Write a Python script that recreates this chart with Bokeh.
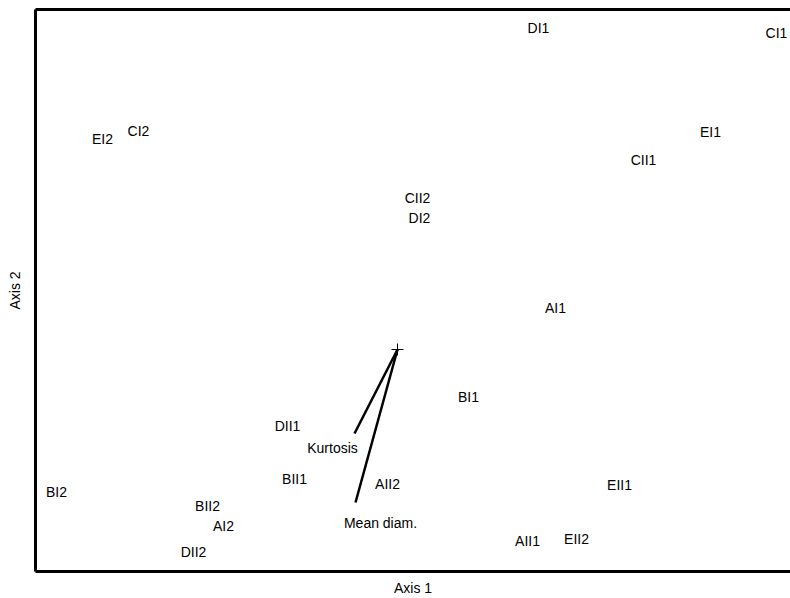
from bokeh.plotting import figure
from bokeh.models import ColumnDataSource, LinearAxis, FixedTicker, Range1d
from bokeh.core.properties import value
from bokeh.embed import file_html
from bokeh.resources import INLINE

# Sample scores (Axis 1, Axis 2)
site_labels = ["DI1", "CI1", "EI2", "CI2", "EI1", "CII1", "CII2", "DI2", "AI1", "BI1",
               "DII1", "BII1", "AII2", "EII1", "BI2", "BII2", "AI2", "AII1", "EII2", "DII2"]
site_x = [1.41, 3.79, -2.95, -2.59, 3.13, 2.46, 0.20, 0.22, 1.58, 0.71,
          -1.10, -1.03, -0.10, 2.22, -3.41, -1.90, -1.74, 1.30, 1.79, -2.04]
site_y = [3.22, 3.17, 2.11, 2.19, 2.18, 1.90, 1.52, 1.32, 0.42, -0.47,
          -0.76, -1.29, -1.34, -1.35, -1.42, -1.56, -1.76, -1.91, -1.89, -2.02]

# Variable vectors
var_labels = ["Kurtosis", "Mean diam."]
var_x = [-0.43, -0.42]
var_y = [-0.84, -1.53]
var_label_x = [-0.65, -0.17]
var_label_y = [-0.985, -1.73]

FONT = "Liberation Sans"

p = figure(width=790, height=598, output_backend="svg", toolbar_location=None,
           x_range=Range1d(-3.62, 3.93), y_range=Range1d(-2.22, 3.40),
           x_axis_location=None, y_axis_location=None,
           min_border_left=35, min_border_right=0, min_border_top=9, min_border_bottom=27)
p.grid.visible = False
p.outline_line_color = None
p.background_fill_color = "white"

def make_axis(label=None, standoff=0):
    ax = LinearAxis(ticker=FixedTicker(ticks=[]), axis_line_width=3, axis_line_color="black",
                    major_tick_out=0, major_tick_in=0, minor_tick_out=0, minor_tick_in=0,
                    major_label_standoff=0)
    if label:
        ax.axis_label = label
        ax.axis_label_text_font = FONT
        ax.axis_label_text_font_size = "14px"
        ax.axis_label_text_font_style = "normal"
        ax.axis_label_text_color = "black"
        ax.axis_label_standoff = standoff
    return ax

p.add_layout(make_axis("Axis 2", 13), "left")
p.add_layout(make_axis("Axis 1", 8), "below")
p.add_layout(make_axis(), "above")

src = ColumnDataSource(dict(x=site_x, y=site_y, t=site_labels))
p.text(x="x", y="y", text="t", source=src, text_font=value(FONT), text_font_size="14px",
       text_align="center", text_baseline="middle", text_color="black")

vsrc = ColumnDataSource(dict(x0=[0, 0], y0=[0, 0], x1=var_x, y1=var_y,
                             lx=var_label_x, ly=var_label_y, t=var_labels))
p.segment(x0="x0", y0="y0", x1="x1", y1="y1", source=vsrc, line_width=2.5, line_color="black")
p.text(x="lx", y="ly", text="t", source=vsrc, text_font=value(FONT), text_font_size="14px",
       text_align="center", text_baseline="middle", text_color="black")

p.scatter(x=[0], y=[0], marker="cross", size=12, line_width=1, line_color="black")

open("out.html", "w").write(file_html(p, INLINE))
